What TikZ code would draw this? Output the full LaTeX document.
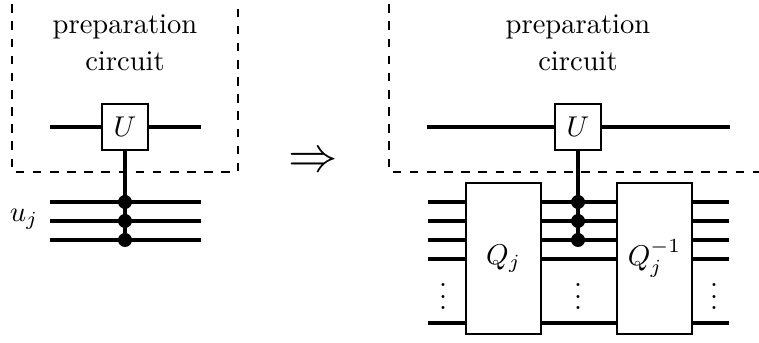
\documentclass[tikz,border=0pt]{standalone}
\begin{document}
\begin{tikzpicture}[x=0.35pt,y=-0.35pt,
  wire/.style={line width=1.4pt},
  gate/.style={draw,line width=0.8pt,fill=white,inner sep=0pt},
  ctrl/.style={circle,fill=black,inner sep=0pt,minimum size=4.9pt},
  prep/.style={draw,dashed,line width=0.4pt},
  lbl/.style={align=center,inner sep=0pt,font=\fontsize{10}{12.8}\selectfont}]
\useasboundingbox (0,0) rectangle (759,343);
\clip (0,0) rectangle (759,343);
% dashed preparation boxes
\draw[prep] (12,-30) rectangle (238,172);
\draw[prep] (389,-30) rectangle (790,172);
\node[lbl] (tL) at (125,43) {preparation\\circuit};
\node[lbl] (tR) at (578,43) {preparation\\circuit};
% arrow
\node (arr) at (313,162) {\LARGE$\Rightarrow$};
% ---------- left circuit ----------
\node[gate,minimum width=16pt,minimum height=16pt] (UL) at (125,127) {$U$};
\coordinate (aL0) at (50,127);
\coordinate (bL0) at (201,127);
\draw[wire] (aL0) -- (UL.west);
\draw[wire] (UL.east) -- (bL0);
\foreach \y/\i in {202/1,221/2,240/3}{
  \coordinate (aL\i) at (50,\y);
  \coordinate (bL\i) at (201,\y);
  \draw[wire] (aL\i) -- (bL\i);
}
\draw[wire] (UL.south) -- (125,240);
\foreach \y/\i in {202/1,221/2,240/3}{
  \node[ctrl] (cL\i) at (125,\y) {};
}
\node (uj) at (24,219) {$u_j$};
% ---------- right circuit ----------
\node[gate,minimum width=16pt,minimum height=16pt] (UR) at (578,127) {$U$};
\coordinate (aR0) at (427,127);
\coordinate (bR0) at (730,127);
\draw[wire] (aR0) -- (UR.west);
\draw[wire] (UR.east) -- (bR0);
\node[gate,minimum width=26.25pt,minimum height=52.85pt] (Q) at (503.5,258.5) {$Q_j$};
\node[gate,minimum width=26.25pt,minimum height=52.85pt] (Qi) at (654.5,258.5) {$Q_j^{-1}$};
\foreach \y/\i in {202/1,221/2,240/3,259/4,323/5}{
  \coordinate (aR\i) at (428,\y);
  \coordinate (bR\i) at (729,\y);
  \draw[wire] (aR\i) -- (Q.west |- aR\i);
  \draw[wire] (Q.east |- aR\i) -- (Qi.west |- aR\i);
  \draw[wire] (Qi.east |- aR\i) -- (bR\i);
}
\draw[wire] (UR.south) -- (578,240);
\foreach \y/\i in {202/1,221/2,240/3}{
  \node[ctrl] (cR\i) at (578,\y) {};
}
\node[inner sep=0pt] (d1) at (443,288) {$\vdots$};
\node[inner sep=0pt] (d2) at (578,288) {$\vdots$};
\node[inner sep=0pt] (d3) at (714,288) {$\vdots$};
\end{tikzpicture}
\end{document}
